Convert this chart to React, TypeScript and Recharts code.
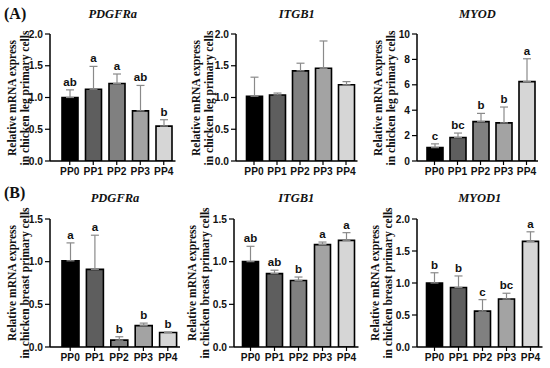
import React from 'react';
import { BarChart, Bar, XAxis, YAxis, ErrorBar, Cell } from 'recharts';

const CATS = ['PP0', 'PP1', 'PP2', 'PP3', 'PP4'];

// (A) chicken leg primary cells
const LEG_PDGFRA_MEAN = [1.0, 1.13, 1.22, 0.79, 0.55];
const LEG_PDGFRA_SD = [0.12, 0.36, 0.15, 0.4, 0.1];
const LEG_PDGFRA_SIG = ['ab', 'a', 'a', 'ab', 'b'];

const LEG_ITGB1_MEAN = [1.02, 1.04, 1.42, 1.46, 1.2];
const LEG_ITGB1_SD = [0.3, 0.03, 0.12, 0.43, 0.05];
const LEG_ITGB1_SIG = ['', '', '', '', ''];

const LEG_MYOD_MEAN = [1.05, 1.85, 3.1, 3.0, 6.25];
const LEG_MYOD_SD = [0.3, 0.35, 0.65, 1.25, 1.8];
const LEG_MYOD_SIG = ['c', 'bc', 'b', 'b', 'a'];

// (B) chicken breast primary cells
const BREAST_PDGFRA_MEAN = [1.01, 0.91, 0.08, 0.25, 0.17];
const BREAST_PDGFRA_SD = [0.21, 0.4, 0.04, 0.03, 0.005];
const BREAST_PDGFRA_SIG = ['a', 'a', 'b', 'b', 'b'];

const BREAST_ITGB1_MEAN = [1.0, 0.86, 0.78, 1.2, 1.25];
const BREAST_ITGB1_SD = [0.18, 0.04, 0.04, 0.03, 0.09];
const BREAST_ITGB1_SIG = ['ab', 'ab', 'b', 'a', 'a'];

const BREAST_MYOD1_MEAN = [1.0, 0.93, 0.56, 0.75, 1.65];
const BREAST_MYOD1_SD = [0.16, 0.18, 0.18, 0.09, 0.15];
const BREAST_MYOD1_SIG = ['b', 'b', 'c', 'bc', 'a'];

const TICKS_2 = [0, 0.5, 1.0, 1.5, 2.0];
const TICKS_15 = [0, 0.5, 1.0, 1.5];
const TICKS_10 = [0, 2, 4, 6, 8, 10];

const FILLS = ['#000000', '#5e5e5e', '#808080', '#a3a3a3', '#d6d6d6'];

const SANS = '"Liberation Sans", Arial, sans-serif';
const SERIF = '"Liberation Serif", "Times New Roman", serif';

interface Row {
  name: string;
  mean: number;
  sd: number;
  err: [number, number];
  sig: string;
}

function rows(mean: number[], sd: number[], sig: string[]): Row[] {
  return CATS.map((name, i) => ({
    name,
    mean: mean[i],
    sd: sd[i],
    err: [0, sd[i]],
    sig: sig[i],
  }));
}

interface PanelProps {
  title: string;
  data: Row[];
  ticks: number[];
  decimals: number;
  left: number;
  top: number;
  axisX: number;
  pad: number;
  band: number;
  plotTop: number;
  plotBottom: number;
  height: number;
  yLabel: string;
  labelX: number;
  titleY: number;
}

// letter drawn a few px above the top of the error bar
function SigShape(props: any) {
  const { x, y, width, height, payload } = props;
  if (!payload || !payload.sig) return null;
  const perUnit = payload.mean ? height / payload.mean : 0;
  const errTop = y - payload.sd * perUnit;
  return (
    <text
      x={x + width / 2}
      y={errTop - 4}
      textAnchor="middle"
      fontFamily={SANS}
      fontWeight="bold"
      fontSize={11.5}
      fill="#111"
    >
      {payload.sig}
    </text>
  );
}

function Panel(p: PanelProps) {
  const yw = p.axisX - p.left;
  const width = yw + p.pad + 5 * p.band + 3;
  const xh = 20;
  const mTop = p.plotTop - p.top;
  const mBottom = p.height - (p.plotBottom - p.top) - xh;
  const max = p.ticks[p.ticks.length - 1];
  const barSize = Math.round(p.band * 0.68);
  const tickStyle = { fontSize: 10.2, fontWeight: 'bold' as const, fill: '#111', fontFamily: SANS };
  const plotMid = (p.plotTop + p.plotBottom) / 2;
  const plotCenterX = p.axisX + (p.pad + 5 * p.band) / 2;
  return (
    <>
      <div
        style={{
          position: 'absolute',
          left: plotCenterX - 60,
          top: p.titleY - 8,
          width: 120,
          textAlign: 'center',
          fontFamily: SERIF,
          fontStyle: 'italic',
          fontWeight: 'bold',
          fontSize: 12.5,
          lineHeight: '16px',
          color: '#111',
        }}
      >
        {p.title}
      </div>
      <div
        style={{
          position: 'absolute',
          left: p.labelX - 80,
          top: plotMid - 13,
          width: 160,
          height: 26,
          lineHeight: '13px',
          transform: 'rotate(-90deg)',
          textAlign: 'center',
          fontFamily: SERIF,
          fontWeight: 'bold',
          fontSize: 11.5,
          color: '#111',
          whiteSpace: 'nowrap',
        }}
      >
        Relative mRNA express
        <br />
        {p.yLabel}
      </div>
      <div style={{ position: 'absolute', left: p.left, top: p.top }}>
        <BarChart
          width={width}
          height={p.height}
          data={p.data}
          margin={{ top: mTop, right: 3, bottom: mBottom, left: 0 }}
        >
          <XAxis dataKey="name" xAxisId="err" hide padding={{ left: p.pad, right: 0 }} />
          <XAxis
            dataKey="name"
            height={xh}
            padding={{ left: p.pad, right: 0 }}
            tick={tickStyle}
            tickSize={4}
            tickMargin={3}
            axisLine={{ stroke: '#000', strokeWidth: 1.5 }}
            tickLine={{ stroke: '#000', strokeWidth: 1.2 }}
            interval={0}
          />
          <YAxis
            width={yw}
            domain={[0, max]}
            ticks={p.ticks}
            allowDataOverflow
            tick={tickStyle}
            tickSize={5}
            tickMargin={2}
            tickFormatter={(v: number) => v.toFixed(p.decimals)}
            axisLine={{ stroke: '#000', strokeWidth: 1.5 }}
            tickLine={{ stroke: '#000', strokeWidth: 1.2 }}
          />
          <Bar
            dataKey="mean"
            xAxisId="err"
            barSize={barSize}
            fill="none"
            shape={<SigShape />}
            isAnimationActive={false}
          >
            <ErrorBar dataKey="err" width={4} stroke="#8a8a8a" strokeWidth={1.2} direction="y" />
          </Bar>
          <Bar
            dataKey="mean"
            barSize={barSize}
            stroke="#000"
            strokeWidth={1.6}
            isAnimationActive={false}
          >
            {p.data.map((_, i) => (
              <Cell key={i} fill={FILLS[i]} />
            ))}
          </Bar>
        </BarChart>
      </div>
    </>
  );
}

const LEG = 'in chicken leg primary cells';
const BREAST = 'in chicken breast primary cells';

export default function App() {
  const heading = {
    position: 'absolute' as const,
    fontFamily: SERIF,
    fontWeight: 'bold' as const,
    fontSize: 16,
    lineHeight: '18px',
    color: '#111',
  };
  return (
    <div style={{ position: 'absolute', left: 0, top: 0, width: 550, height: 368, background: '#fff', overflow: 'hidden' }}>
      <div style={{ ...heading, left: 4, top: 5 }}>(A)</div>
      <div style={{ ...heading, left: 4, top: 184 }}>(B)</div>

      <Panel title="PDGFRa" data={rows(LEG_PDGFRA_MEAN, LEG_PDGFRA_SD, LEG_PDGFRA_SIG)}
        ticks={TICKS_2} decimals={1} left={0} top={0} axisX={50} pad={8} band={23.5}
        plotTop={34} plotBottom={161} height={185} yLabel={LEG} labelX={18.5} titleY={14} />
      <Panel title="ITGB1" data={rows(LEG_ITGB1_MEAN, LEG_ITGB1_SD, LEG_ITGB1_SIG)}
        ticks={TICKS_2} decimals={1} left={183} top={0} axisX={236} pad={6.5} band={23}
        plotTop={34} plotBottom={161} height={185} yLabel={LEG} labelX={203} titleY={14} />
      <Panel title="MYOD" data={rows(LEG_MYOD_MEAN, LEG_MYOD_SD, LEG_MYOD_SIG)}
        ticks={TICKS_10} decimals={0} left={365} top={0} axisX={417} pad={6} band={23}
        plotTop={34} plotBottom={161} height={185} yLabel={LEG} labelX={385} titleY={14} />

      <Panel title="PDGFRa" data={rows(BREAST_PDGFRA_MEAN, BREAST_PDGFRA_SD, BREAST_PDGFRA_SIG)}
        ticks={TICKS_15} decimals={1} left={0} top={180} axisX={50} pad={8} band={24.4}
        plotTop={219} plotBottom={347} height={188} yLabel={BREAST} labelX={18.5} titleY={198} />
      <Panel title="ITGB1" data={rows(BREAST_ITGB1_MEAN, BREAST_ITGB1_SD, BREAST_ITGB1_SIG)}
        ticks={TICKS_15} decimals={1} left={183} top={180} axisX={234} pad={4.5} band={24}
        plotTop={219} plotBottom={347} height={188} yLabel={BREAST} labelX={199} titleY={198} />
      <Panel title="MYOD1" data={rows(BREAST_MYOD1_MEAN, BREAST_MYOD1_SD, BREAST_MYOD1_SIG)}
        ticks={TICKS_2} decimals={1} left={365} top={180} axisX={417} pad={5.5} band={24}
        plotTop={219} plotBottom={347} height={188} yLabel={BREAST} labelX={382} titleY={198} />
    </div>
  );
}
